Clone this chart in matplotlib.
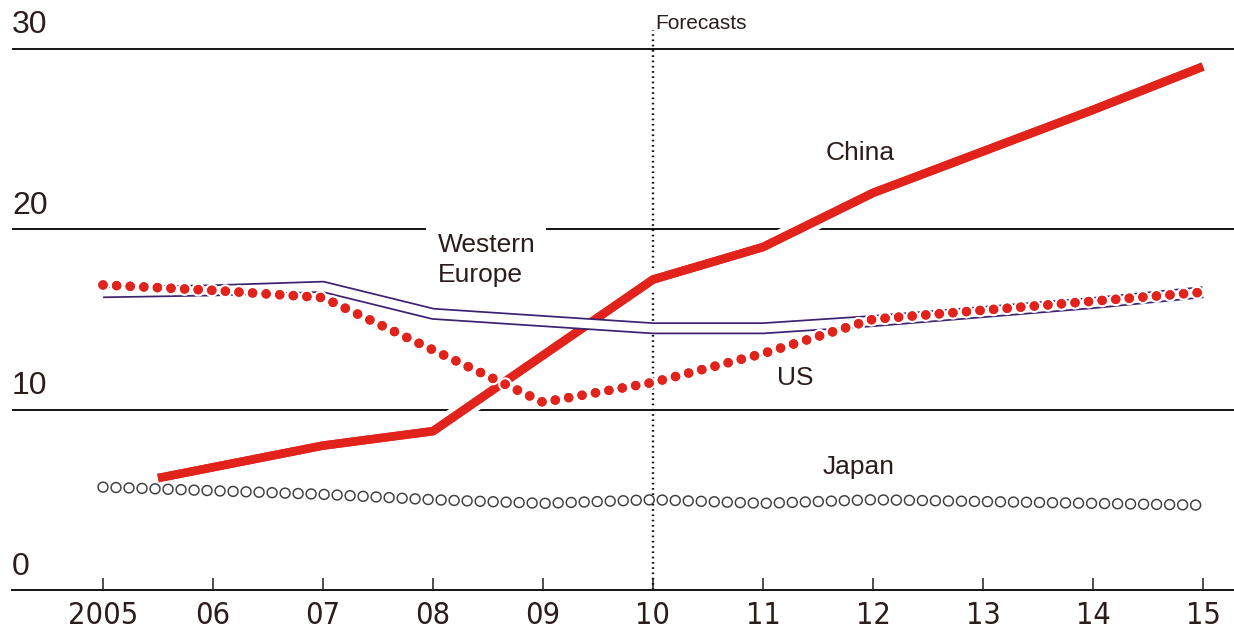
import matplotlib
matplotlib.use("Agg")
import matplotlib.pyplot as plt
import matplotlib.patheffects as pe
from matplotlib import transforms

plt.rcParams['lines.scale_dashes'] = False

# share of world car sales, %
years = [2005, 2006, 2007, 2008, 2009, 2010, 2011, 2012, 2013, 2014, 2015]
china_years = [2005.5, 2006, 2007, 2008, 2009, 2010, 2011, 2012, 2013, 2014, 2015]
china = [6.2, 6.8, 8.0, 8.8, 13.0, 17.2, 19.0, 22.0, 24.3, 26.6, 29.0]
w_europe = [16.5, 16.6, 16.8, 15.3, 14.9, 14.5, 14.5, 14.9, 15.4, 15.9, 16.5]
us = [16.9, 16.6, 16.2, 13.3, 10.4, 11.5, 13.1, 15.0, 15.5, 16.0, 16.5]
japan = [5.7, 5.5, 5.3, 5.0, 4.8, 5.0, 4.8, 5.0, 4.9, 4.8, 4.7]

x_labels = ["2005", "06", "07", "08", "09", "10", "11", "12", "13", "14", "15"]
y_ticks = [0, 10, 20, 30]
forecast_year = 2010

red = '#e2231c'
ink = '#2b1d1b'
purple = '#3d2270'
label_font = ['Liberation Sans', 'DejaVu Sans']

dpi = 100
fig = plt.figure(figsize=(12.34, 6.35), dpi=dpi)
ax = fig.add_axes([12 / 1234, 45 / 635, 1222 / 1234, 590 / 635])

px = 72.0 / dpi  # points per pixel

# gridlines and baseline
for v in y_ticks[1:]:
    ax.axhline(v, color='#1a1a1a', lw=2 * px, zorder=1)
for s in ['top', 'right', 'left']:
    ax.spines[s].set_visible(False)
ax.spines['bottom'].set_linewidth(2 * px)
ax.spines['bottom'].set_color('#1a1a1a')

# forecast divider
ax.plot([forecast_year, forecast_year], [0, 31.0], color='#111111', lw=2.4 * px,
        ls=(0, (1.2, 2.6)), zorder=2)

# China
ax.plot(china_years, china, color=red, lw=8.5 * px, solid_capstyle='butt', zorder=3,
        path_effects=[pe.withStroke(linewidth=18 * px, foreground='white'), pe.Normal()])

# Western Europe: hollow band, open at both ends
ax.plot(years, w_europe, color=purple, lw=12 * px, solid_joinstyle='round',
        solid_capstyle='butt', zorder=4)
ax.plot(years, w_europe, color='white', lw=8.5 * px, solid_joinstyle='round',
        solid_capstyle='projecting', zorder=4.1)

# US: red dots
ax.plot(years, us, color=red, lw=9.5 * px, ls=(0, (0.01, 13.6 * px)),
        dash_capstyle='round', zorder=5,
        path_effects=[pe.withStroke(linewidth=14 * px, foreground='white'), pe.Normal()])

# Japan: hollow circles
ax.plot(years, japan, color='#3f3f3f', lw=11.5 * px, ls=(0, (0.01, 13 * px)),
        dash_capstyle='round', zorder=6)
ax.plot(years, japan, color='white', lw=8.5 * px, ls=(0, (0.01, 13 * px)),
        dash_capstyle='round', zorder=6.1)

# series labels
ax.text(2011.57, 24.2, "China", fontsize=19, color=ink, family=label_font,
        ha='left', va='center', zorder=7)
ax.text(2008.04, 18.3, "Western\nEurope", fontsize=19, color=ink, family=label_font,
        ha='left', va='center', linespacing=1.3, zorder=7,
        bbox=dict(facecolor='white', edgecolor='none', pad=8))
ax.text(2011.13, 11.75, "US", fontsize=19, color=ink, family=label_font,
        ha='left', va='center', zorder=7)
ax.text(2011.54, 6.8, "Japan", fontsize=19, color=ink, family=label_font,
        ha='left', va='center', zorder=7)
ax.text(2010.02, 31.4, "Forecasts", fontsize=15, color=ink, family=label_font,
        ha='left', va='center', zorder=7)

# y labels sit above the gridlines at the left edge
trans = transforms.blended_transform_factory(ax.transAxes, ax.transData)
for v in y_ticks:
    ax.text(0.0, v + 0.45, str(v), transform=trans, fontsize=23, color=ink,
            family=label_font, ha='left', va='bottom')
ax.set_yticks([])

ax.set_xticks(years)
ax.set_xticklabels(x_labels, family=['DejaVu Sans'], stretch='condensed',
                   fontsize=22, color=ink)
ax.tick_params(axis='x', direction='in', length=12 * px, width=1.5 * px,
               color='#1a1a1a', pad=8)

ax.set_xlim(2005 + (12 - 103) / 110, 2005 + (1234 - 103) / 110)
ax.set_ylim(0, 590 / 18.05)

fig.savefig("out.png", dpi=dpi)
